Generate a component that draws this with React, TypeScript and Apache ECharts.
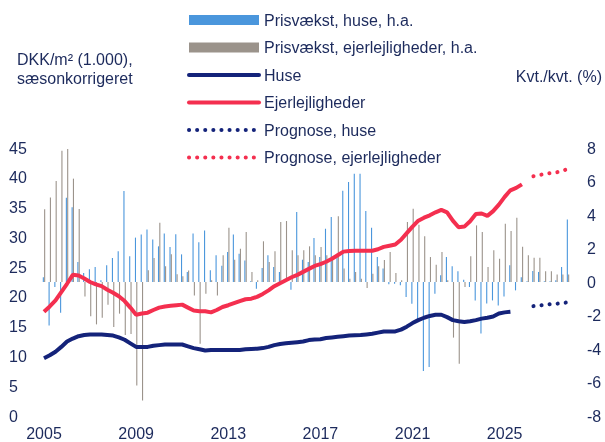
import React, { useEffect, useRef } from "react";
import * as echarts from "echarts";

const startYear = 2005;
const endYear = 2027;
const quarters: string[] = [];
for (let y = startYear; y <= endYear; y++) for (let q = 1; q <= 4; q++) quarters.push(`${y}K${q}`);

const tickYears = ["2005", "2009", "2013", "2017", "2021", "2025"];

// DKK/m² (1.000), left axis
const huse = [
  9.7, 10.2, 10.8, 11.6, 12.5, 13.0, 13.4, 13.6, 13.7, 13.7, 13.7, 13.6, 13.5, 13.2, 12.8, 12.2,
  11.6, 11.6, 11.6, 11.8, 11.9, 12.0, 12.0, 12.0, 12.0, 11.7, 11.4, 11.2, 11.0, 11.1, 11.1, 11.1,
  11.1, 11.1, 11.1, 11.2, 11.25, 11.3, 11.4, 11.6, 11.9, 12.1, 12.2, 12.3, 12.4, 12.5, 12.75, 12.85,
  12.9, 13.1, 13.2, 13.3, 13.4, 13.5, 13.55, 13.6, 13.7, 13.8, 14.0, 14.2, 14.2, 14.2,
  14.5, 15.0, 15.6, 16.1, 16.5, 16.8, 17.0, 17.0, 16.6, 16.1, 15.9, 15.8, 15.9, 16.1, 16.35, 16.5,
  16.7, 17.2, 17.4, 17.5,
];
const ejerlejligheder = [
  17.5, 18.4, 19.4, 20.8, 22.2, 23.7, 23.6, 23.1, 22.5, 22.1, 21.8, 21.2, 20.7, 20.1, 19.3, 18.2,
  17.0, 17.2, 17.35, 17.8, 18.2, 18.4, 18.5, 18.6, 18.7, 18.2, 17.7, 17.6, 17.6, 17.4, 17.8, 18.3,
  18.6, 18.95, 19.3, 19.6, 19.7, 20.0, 20.5, 21.1, 21.8, 22.3, 22.8, 23.3, 23.7, 24.2, 24.7, 25.2,
  25.5, 25.9, 26.4, 27.0, 27.6, 27.7, 27.75, 27.75, 27.75, 27.75, 28.0, 28.4, 28.6, 28.8,
  29.6, 30.7, 31.8, 32.8, 33.3, 33.7, 34.2, 34.6, 34.2, 32.8, 31.7, 31.8, 32.7, 33.9, 34.0, 33.6,
  34.4, 35.5, 36.8, 37.9, 38.3, 38.9,
];
const prognoseStart = 85; // 2026K2
const prognoseHuse = [18.45, 18.53, 18.65, 18.78, 18.85, 18.95, 19.1];
const prognoseEjer = [40.25, 40.45, 40.65, 40.8, 40.9, 41.15, 41.5];

// Kvt./kvt. (%), right axis
const prisvaekstHuse = [
  0.28, -2.6, -0.3, -1.84, 5.03, 4.46, 1.19, 0.54, 0.76, 0.9, 0.1, 1.0, 1.43, 1.83, 5.43, 1.53,
  2.65, 2.83, 3.14, 2.53, 2.13, 2.89, 2.09, 2.85, 1.65, 0.6, 2.89, 2.38, 3.08, 0.7, 1.59, 0.97,
  1.79, 2.83, 1.69, 1.29, 0.05, -0.4, 0.84, 1.59, 0.9, 0.6, 0.1, -0.46, 4.18, 1.33, 1.19, 2.63,
  1.5, 3.18, 3.88, 1.69, 5.45, 5.97, 6.47, 6.47, 4.24, 3.24, 1.49, 0.8, -0.14, -0.1, -0.2, -0.9,
  -1.3, -2.3, -5.31, -5.07, -0.7, 0.4, 1.49, 0.94, 0.64, 0.14, -0.3, -1.1, -3.08, -1.29, -1.1, -1.4,
  -0.87, 1.0, -0.5, 0.28, 0.05, 0.65, 0.6, 0.05, 0.05, 0.1, 0.9, 3.73,
];
const prisvaekstEjer = [
  4.34, 5.05, 6.03, 7.84, 7.94, 6.17, 4.36, -0.86, -2.05, -2.53, -2.14, -1.36, -2.69, -1.89, -3.16, -3.1,
  -6.18, -7.08, 0.7, 1.43, 3.54, 0.94, 1.65, 0.46, 0.35, 0.68, -0.8, -3.68, -0.7, 0.1, -0.8, 1.59,
  3.24, 1.33, 1.99, 2.99, 0.6, 0.1, 2.43, 1.19, 1.83, 3.58, 3.64, 1.89, 1.59, 1.89, 2.13, 1.59,
  2.09, 1.59, 1.5, 3.92, 0.8, 0.2, 0.6, 0.2, -0.36, 0.5, 0.94, 1.31, 1.79, 0.54, 0.1, 3.58,
  4.38, 3.42, 2.73, 1.49, 1.03, 1.79, 0.1, -3.32, -4.88, -0.3, 1.53, 3.38, 2.99, 0.9, 1.89, 1.39,
  3.48, 3.04, 3.84, 2.11, 1.59, 1.45, 1.45, 0.64, 0.64, 0.45, 0.45, 0.45,
];

const NAVY = "#14237a";
const RED = "#f42f4f";
const BLUE = "#4a96dc";
const GRAY = "#9b938b";
const TEXT = "#1c2a5c";
const FONT = "Liberation Sans";
const FS = 16;

function pad(arr: number[], offset: number): (number | null)[] {
  const out: (number | null)[] = quarters.map(() => null);
  arr.forEach((v, i) => (out[offset + i] = v));
  return out;
}

const hiddenSymbol = { color: "rgba(0,0,0,0)", borderColor: "rgba(0,0,0,0)", borderWidth: 0 };

export default function App() {
  const ref = useRef<HTMLDivElement>(null);
  useEffect(() => {
    if (!ref.current) return;
    const chart = echarts.init(ref.current, null, { renderer: "svg" });
    const dotted = { width: 4, type: [0.1, 8] as any, cap: "round" as const };
    chart.setOption({
      animation: false,
      textStyle: { fontFamily: FONT },
      grid: { left: 44, right: 37, top: 148, bottom: 26, containLabel: false },
      legend: {
        orient: "vertical",
        left: 182,
        top: 7,
        itemWidth: 70,
        itemHeight: 10,
        itemGap: 11.5,
        lineStyle: { width: 4, cap: "round" },
        textStyle: { color: TEXT, fontSize: FS, lineHeight: 16, fontFamily: FONT },
        data: [
          { name: "Prisvækst, huse, h.a.", icon: "rect" },
          { name: "Prisvækst, ejerlejligheder, h.a.", icon: "rect" },
          { name: "Huse", itemStyle: hiddenSymbol },
          { name: "Ejerlejligheder", itemStyle: hiddenSymbol },
          { name: "Prognose, huse", itemStyle: hiddenSymbol },
          { name: "Prognose, ejerlejligheder", itemStyle: hiddenSymbol },
        ],
      },
      graphic: [
        {
          type: "text",
          left: 17,
          top: 50,
          style: { text: "DKK/m² (1.000),\nsæsonkorrigeret", fill: TEXT, font: `${FS}px "${FONT}"`, lineHeight: 19 },
        },
        {
          type: "text",
          right: 3,
          top: 68,
          style: { text: "Kvt./kvt. (%)", fill: TEXT, font: `${FS}px "${FONT}"` },
        },
      ],
      xAxis: {
        type: "category",
        data: quarters,
        boundaryGap: false,
        axisLine: { show: false },
        axisTick: { show: false },
        splitLine: { show: false },
        axisLabel: {
          color: TEXT,
          fontSize: FS,
          margin: 9,
          interval: (idx: number, val: string) => tickYears.includes(val.slice(0, 4)) && val.endsWith("K1"),
          formatter: (val: string) => val.slice(0, 4),
        },
      },
      yAxis: [
        {
          type: "value",
          min: 0,
          max: 45,
          interval: 5,
          axisLine: { show: false },
          axisTick: { show: false },
          splitLine: { show: false },
          axisLabel: { color: TEXT, fontSize: FS, margin: 35, align: "left" },
        },
        {
          type: "value",
          min: -8,
          max: 8,
          interval: 2,
          position: "right",
          axisLine: { show: false },
          axisTick: { show: false },
          splitLine: { show: false },
          axisLabel: { color: TEXT, fontSize: FS, margin: 19 },
        },
      ],
      series: [
        {
          name: "Prisvækst, huse, h.a.",
          type: "bar",
          yAxisIndex: 1,
          data: prisvaekstHuse,
          barWidth: 1.1,
          barGap: "20%",
          itemStyle: { color: BLUE },
          z: 1,
        },
        {
          name: "Prisvækst, ejerlejligheder, h.a.",
          type: "bar",
          yAxisIndex: 1,
          data: prisvaekstEjer,
          barWidth: 1.1,
          barGap: "20%",
          itemStyle: { color: GRAY },
          z: 1,
        },
        {
          name: "Huse",
          type: "line",
          data: pad(huse, 0),
          symbol: "none",
          lineStyle: { color: NAVY, width: 4 },
          itemStyle: { color: NAVY },
          z: 3,
        },
        {
          name: "Ejerlejligheder",
          type: "line",
          data: pad(ejerlejligheder, 0),
          symbol: "none",
          lineStyle: { color: RED, width: 4 },
          itemStyle: { color: RED },
          z: 3,
        },
        {
          name: "Prognose, huse",
          type: "line",
          data: pad(prognoseHuse, prognoseStart),
          symbol: "none",
          lineStyle: { color: NAVY, ...dotted },
          itemStyle: { color: NAVY },
          z: 3,
        },
        {
          name: "Prognose, ejerlejligheder",
          type: "line",
          data: pad(prognoseEjer, prognoseStart),
          symbol: "none",
          lineStyle: { color: RED, ...dotted },
          itemStyle: { color: RED },
          z: 3,
        },
      ],
    });
    return () => chart.dispose();
  }, []);
  return <div ref={ref} style={{ position: "fixed", left: 0, top: 0, width: 605, height: 442 }} />;
}
